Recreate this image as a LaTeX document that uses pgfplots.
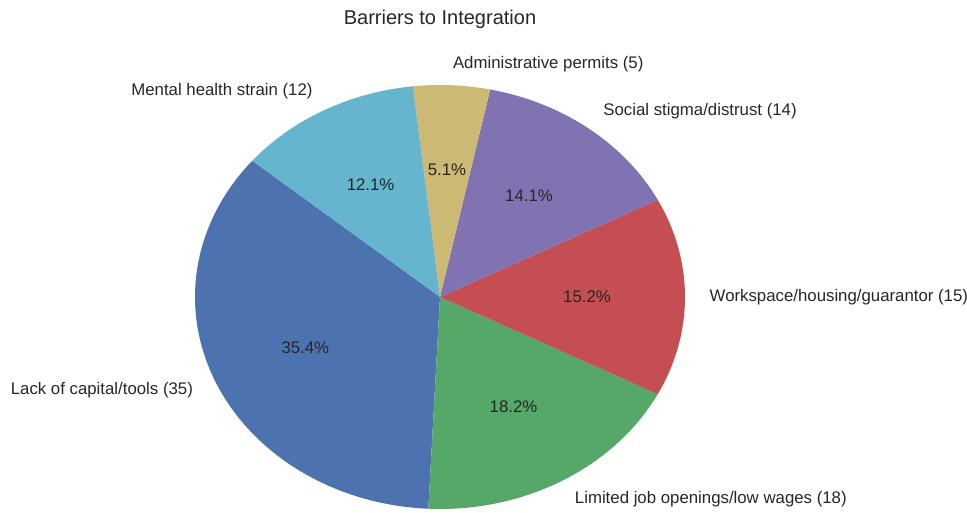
\documentclass[border=0pt]{standalone}
\usepackage{pgfplots}
\pgfplotsset{compat=1.18}
\usepackage{fontspec}
\setmainfont{Liberation Sans}
\definecolor{cA}{HTML}{4C72B0}
\definecolor{cB}{HTML}{55A868}
\definecolor{cC}{HTML}{C44E52}
\definecolor{cD}{HTML}{8172B2}
\definecolor{cE}{HTML}{CCB974}
\definecolor{cF}{HTML}{64B5CD}
\definecolor{txt}{HTML}{262626}
% values
\def\vA{35}\def\vB{18}\def\vC{15}\def\vD{14}\def\vE{5}\def\vF{12}
\pgfmathsetmacro\tot{\vA+\vB+\vC+\vD+\vE+\vF}
\pgfmathsetmacro\aA{140}
\pgfmathsetmacro\aB{\aA+360*\vA/\tot}
\pgfmathsetmacro\aC{\aB+360*\vB/\tot}
\pgfmathsetmacro\aD{\aC+360*\vC/\tot}
\pgfmathsetmacro\aE{\aD+360*\vD/\tot}
\pgfmathsetmacro\aF{\aE+360*\vE/\tot}
\pgfmathsetmacro\aG{\aF+360*\vF/\tot}
\pgfmathsetmacro\mA{(\aA+\aB)/2}
\pgfmathsetmacro\mB{(\aB+\aC)/2}
\pgfmathsetmacro\mC{(\aC+\aD)/2}
\pgfmathsetmacro\mD{(\aD+\aE)/2}
\pgfmathsetmacro\mE{(\aE+\aF)/2}
\pgfmathsetmacro\mF{(\aF+\aG)/2}
\newcommand\pct[1]{\pgfmathsetmacro\tmp{100*#1/\tot}\pgfmathprintnumber[fixed,precision=1,fixed zerofill,assume math mode=true]{\tmp}\%}
\newcommand\lbl{\fontsize{16.8}{20}\selectfont}
\begin{document}
\begin{tikzpicture}
\begin{axis}[
  scale only axis, width=967pt, height=512pt,
  xmin=-1.79592, xmax=2.15102, ymin=-1.01415, ymax=1.40094,
  hide axis, clip=false,
]
\addplot[fill=cA, draw=none, domain=\aA:\aB, samples=120, variable=\t] ({cos(t)},{sin(t)}) -- (axis cs:0,0) -- cycle;
\addplot[fill=cB, draw=none, domain=\aB:\aC, samples=80, variable=\t] ({cos(t)},{sin(t)}) -- (axis cs:0,0) -- cycle;
\addplot[fill=cC, draw=none, domain=\aC:\aD, samples=60, variable=\t] ({cos(t)},{sin(t)}) -- (axis cs:0,0) -- cycle;
\addplot[fill=cD, draw=none, domain=\aD:\aE, samples=60, variable=\t] ({cos(t)},{sin(t)}) -- (axis cs:0,0) -- cycle;
\addplot[fill=cE, draw=none, domain=\aE:\aF, samples=30, variable=\t] ({cos(t)},{sin(t)}) -- (axis cs:0,0) -- cycle;
\addplot[fill=cF, draw=none, domain=\aF:\aG, samples=60, variable=\t] ({cos(t)},{sin(t)}) -- (axis cs:0,0) -- cycle;
% percentage and category labels
\tikzset{lab/.style={txt,font=\lbl,inner sep=0pt}}
\node[lab] at (axis cs:{0.6*cos(\mA)},{0.6*sin(\mA)}) {\pct{\vA}};
\node[lab,anchor=east] at (axis cs:{1.1*cos(\mA)},{1.1*sin(\mA)}) {Lack of capital/tools (35)};
\node[lab] at (axis cs:{0.6*cos(\mB)},{0.6*sin(\mB)}) {\pct{\vB}};
\node[lab,anchor=west] at (axis cs:{1.1*cos(\mB)},{1.1*sin(\mB)}) {Limited job openings/low wages (18)};
\node[lab] at (axis cs:{0.6*cos(\mC)},{0.6*sin(\mC)}) {\pct{\vC}};
\node[lab,anchor=west] at (axis cs:{1.1*cos(\mC)},{1.1*sin(\mC)}) {Workspace/housing/guarantor (15)};
\node[lab] at (axis cs:{0.6*cos(\mD)},{0.6*sin(\mD)}) {\pct{\vD}};
\node[lab,anchor=west] at (axis cs:{1.1*cos(\mD)},{1.1*sin(\mD)}) {Social stigma/distrust (14)};
\node[lab] at (axis cs:{0.6*cos(\mE)},{0.6*sin(\mE)}) {\pct{\vE}};
\node[lab,anchor=west] at (axis cs:{1.1*cos(\mE)},{1.1*sin(\mE)}) {Administrative permits (5)};
\node[lab] at (axis cs:{0.6*cos(\mF)},{0.6*sin(\mF)}) {\pct{\vF}};
\node[lab,anchor=east] at (axis cs:{1.1*cos(\mF)},{1.1*sin(\mF)}) {Mental health strain (12)};
\node[txt,font=\fontsize{20}{24}\selectfont,inner sep=0pt] at (axis cs:0,1.311) {Barriers to Integration};
\end{axis}
\pgfresetboundingbox
\path (current axis.south west) rectangle (current axis.north east);
\end{tikzpicture}
\end{document}
